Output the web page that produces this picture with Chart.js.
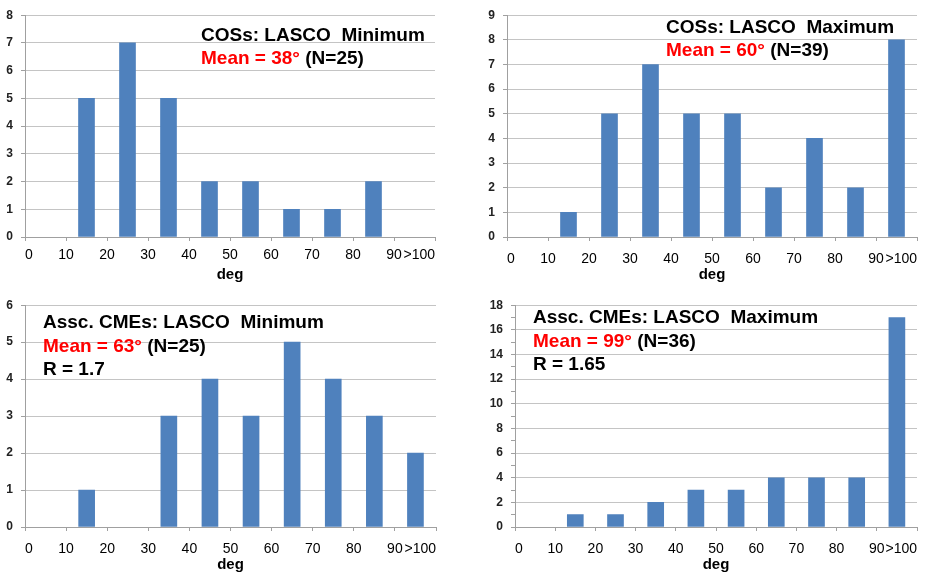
<!DOCTYPE html>
<html>
<head>
<meta charset="utf-8">
<script src="https://cdn.jsdelivr.net/npm/chart.js@4"></script>
<style>
  body { margin: 0; background: #fff; width: 928px; height: 575px; position: relative; overflow: hidden;
         font-family: "Liberation Sans", Arial, sans-serif; }
  canvas { position: absolute; }
  .note { position: absolute; font-weight: bold; font-size: 19px; line-height: 23px; color: #000; white-space: pre; }
  .note .red { color: #ff0000; }
</style>
</head>
<body>
<canvas id="cosMin" width="464" height="290" style="left:0;top:0"></canvas>
<canvas id="cosMax" width="464" height="290" style="left:464px;top:0"></canvas>
<canvas id="cmeMin" width="464" height="285" style="left:0;top:290px"></canvas>
<canvas id="cmeMax" width="464" height="285" style="left:464px;top:290px"></canvas>

<div class="note" style="left:201px;top:23px">COSs: LASCO  Minimum<br><span class="red">Mean = 38°</span> (N=25)</div>
<div class="note" style="left:666px;top:15px">COSs: LASCO  Maximum<br><span class="red">Mean = 60°</span> (N=39)</div>
<div class="note" style="left:43px;top:310px;line-height:23.5px">Assc. CMEs: LASCO  Minimum<br><span class="red">Mean = 63°</span> (N=25)<br>R = 1.7</div>
<div class="note" style="left:533px;top:305px;line-height:23.5px">Assc. CMEs: LASCO  Maximum<br><span class="red">Mean = 99°</span> (N=36)<br>R = 1.65</div>

<script>
// bin centres (deg) and counts per 10-degree bin, last bin is 90->100+
const binCenters = [5, 15, 25, 35, 45, 55, 65, 75, 85, 95];
const xTickLabels = ['0', '10', '20', '30', '40', '50', '60', '70', '80', '90', '>100'];

const cosMinCounts = [0, 5, 7, 5, 2, 2, 1, 1, 2, 0];
const cosMaxCounts = [0, 1, 5, 7, 5, 5, 2, 4, 2, 8];
const cmeMinCounts = [0, 1, 0, 3, 4, 3, 5, 4, 3, 2];
const cmeMaxCounts = [0, 1, 1, 2, 3, 3, 4, 4, 4, 17];

const FONT = '"Liberation Sans", Arial, sans-serif';
const BAR = '#4F81BD';
const GRID = '#c4c4c4';
const AXIS = '#a0a0a0';

function makeChart(id, counts, cfg) {
  return new Chart(document.getElementById(id), {
    type: 'bar',
    data: {
      datasets: [{
        // empty bins are left out so no sliver is drawn on the axis
        data: binCenters.map((x, i) => ({ x, y: counts[i] || null })),
        backgroundColor: BAR,
        barThickness: 16
      }]
    },
    options: {
      responsive: false,
      animation: false,
      layout: { padding: { top: 13, right: cfg.padRight, left: 0, bottom: 0 } },
      plugins: { legend: { display: false }, tooltip: { enabled: false } },
      scales: {
        x: {
          type: 'linear', min: 0, max: 100, offset: false,
          ticks: {
            stepSize: 10, align: 'inner', padding: cfg.tickPad, autoSkip: false, maxRotation: 0,
            color: '#000', font: { family: FONT, size: 14 },
            callback: v => xTickLabels[Math.round(v / 10)]
          },
          grid: { drawOnChartArea: false, tickLength: 4, tickColor: AXIS, offset: false },
          border: { color: AXIS },
          title: {
            display: true, text: 'deg', color: '#000',
            font: { family: FONT, size: 15, weight: 'bold' },
            padding: { top: 0, bottom: cfg.titlePad }
          },
          afterFit: s => { s.height = cfg.xHeight; }
        },
        y: {
          min: 0, max: cfg.yMax,
          ticks: {
            stepSize: 1, autoSkip: false, padding: 8, color: '#222',
            font: { family: FONT, size: 12, weight: 'bold' },
            callback: v => (v % cfg.labelStep === 0 ? v : '')
          },
          grid: {
            color: ctx => (ctx.tick && ctx.tick.value % cfg.labelStep !== 0 ? 'rgba(0,0,0,0)' : GRID),
            tickColor: AXIS, tickLength: 4
          },
          border: { color: AXIS },
          afterFit: s => { s.width = cfg.yWidth; }
        }
      }
    }
  });
}

makeChart('cosMin', cosMinCounts, { yMax: 8, labelStep: 1, yWidth: 25, padRight: 29, xHeight: 53, tickPad: 6, titlePad: 6 });
makeChart('cosMax', cosMaxCounts, { yMax: 9, labelStep: 1, yWidth: 43, padRight: 11, xHeight: 53, tickPad: 10, titlePad: 6 });
makeChart('cmeMin', cmeMinCounts, { yMax: 6, labelStep: 1, yWidth: 25, padRight: 28, xHeight: 48, tickPad: 10, titlePad: 1 });
makeChart('cmeMax', cmeMaxCounts, { yMax: 18, labelStep: 2, yWidth: 51, padRight: 11, xHeight: 48, tickPad: 10, titlePad: 1 });
</script>
</body>
</html>
